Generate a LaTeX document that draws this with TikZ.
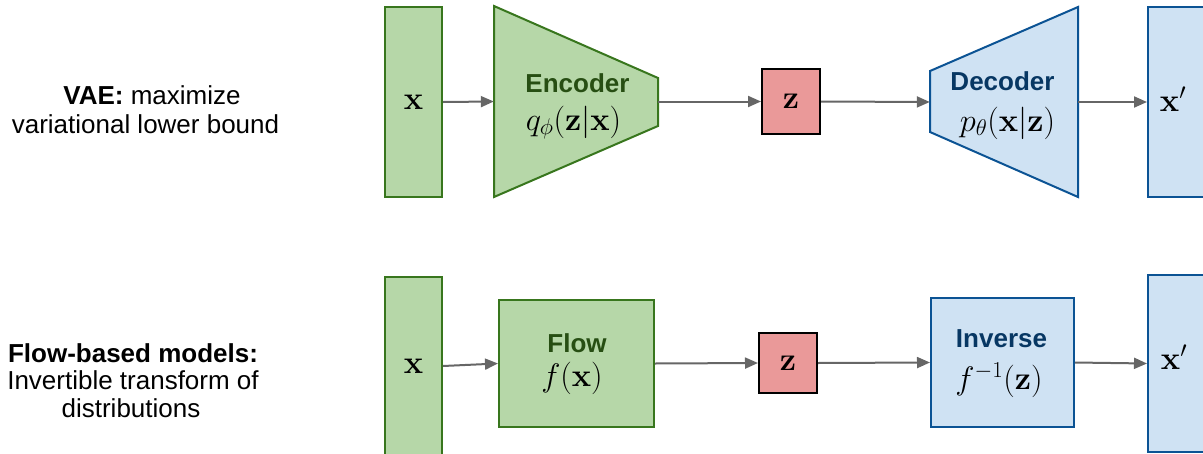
\RequirePackage{fix-cm}
\documentclass[tikz,border=0pt]{standalone}
\usepackage[no-math]{fontspec}
\setmainfont{Liberation Sans}
\usetikzlibrary{arrows.meta}

\definecolor{encfill}{HTML}{B6D7A8}
\definecolor{encline}{HTML}{38761D}
\definecolor{enctext}{HTML}{274E13}
\definecolor{decfill}{HTML}{CFE2F3}
\definecolor{decline}{HTML}{0B5394}
\definecolor{dectext}{HTML}{073763}
\definecolor{latfill}{HTML}{EA9999}
\definecolor{arrowgray}{HTML}{666666}

\tikzset{
  greenbox/.style={draw=encline, fill=encfill, line width=2pt, inner sep=0pt},
  bluebox/.style={draw=decline, fill=decfill, line width=2pt, inner sep=0pt},
  latent/.style={draw=black, fill=latfill, line width=2pt, inner sep=0pt},
  frame/.style={inner sep=0pt, draw=none},
  sym/.style={font=\fontsize{32.5}{36}\selectfont},
  title/.style={font=\fontsize{26}{28}\selectfont\bfseries, anchor=base, inner sep=0pt},
  formula/.style={font=\fontsize{32.5}{36}\selectfont, anchor=base, inner sep=0pt},
  side/.style={font=\fontsize{26}{28}\selectfont, anchor=base, inner sep=0pt},
  conn/.style={draw=arrowgray, line width=2pt, -{Triangle[length=13pt,width=11pt]}},
}

\begin{document}
\begin{tikzpicture}[x=1pt, y=-1pt]
\useasboundingbox (0,0) rectangle (1203,453);
\clip (0,0) rectangle (1203,453);

% ---------- VAE row ----------
\node[side] (vae1) at (152,104) {\textbf{VAE:} maximize};
\node[side] (vae2) at (145.5,133) {variational lower bound};

\node[greenbox, minimum width=57pt, minimum height=190pt, sym] (xtop) at (413.5,102) {$\mathbf{x}$};

% encoder: trapezoid narrowing to the right
\node[frame, minimum width=164pt, minimum height=191pt] (enc) at (576,101.5) {};
\draw[greenbox] (494,6) -- (658,78) -- (658,126) -- (494,197) -- cycle;
\node[title, text=enctext] (enctitle) at (577.5,92) {Encoder};
\node[formula] (encform) at (573.5,130) {$q_\phi(\mathbf{z}|\mathbf{x})$};

\node[latent, minimum width=58pt, minimum height=65pt, sym] (ztop) at (791,101.5) {$\mathbf{z}$};

% decoder: trapezoid widening to the right
\node[frame, minimum width=148pt, minimum height=190pt] (dec) at (1004,102) {};
\draw[bluebox] (930,71) -- (1078,7) -- (1078,197) -- (930,132) -- cycle;
\node[title, text=dectext] (dectitle) at (1002.5,90) {Decoder};
\node[formula] (decform) at (1007.5,131) {$p_\theta(\mathbf{x}|\mathbf{z})$};

\node[bluebox, minimum width=70pt, minimum height=190pt, anchor=west] (xptop) at (1147,102) {};
\node[formula] (xptoplbl) at (1173,111) {$\mathbf{x}'$};

\draw[conn] (xtop.east) -- (enc.west);
\draw[conn] (enc.east) -- (ztop.west);
\draw[conn] (ztop.east) -- (dec.west);
\draw[conn] (dec.east) -- (xptop.west);

% ---------- flow row ----------
\node[side] (flow1) at (133,362) {\textbf{Flow-based models:}};
\node[side] (flow2) at (133,389.5) {Invertible transform of};
\node[side] (flow3) at (131,417) {distributions};

\node[greenbox, minimum width=57pt, minimum height=178pt, sym] (xbot) at (413.5,366) {$\mathbf{x}$};

\node[greenbox, minimum width=155pt, minimum height=127pt] (flow) at (576.5,363.5) {};
\node[title, text=enctext] (flowtitle) at (577,352) {Flow};
\node[formula] (flowform) at (572,386) {$f(\mathbf{x})$};

\node[latent, minimum width=58pt, minimum height=60pt, sym] (zbot) at (788,363) {$\mathbf{z}$};

\node[bluebox, minimum width=143pt, minimum height=129pt] (inv) at (1002.5,362.5) {};
\node[title, text=dectext] (invtitle) at (1001.5,347) {Inverse};
\node[formula] (invform) at (999,389) {$f^{-1}(\mathbf{z})$};

\node[bluebox, minimum width=70pt, minimum height=177pt, anchor=west] (xpbot) at (1147,363.5) {};
\node[formula] (xpbotlbl) at (1174,369) {$\mathbf{x}'$};

\draw[conn] (xbot.east) -- (flow.west);
\draw[conn] (flow.east) -- (zbot.west);
\draw[conn] (zbot.east) -- (inv.west);
\draw[conn] (inv.east) -- (xpbot.west);
\end{tikzpicture}
\end{document}
